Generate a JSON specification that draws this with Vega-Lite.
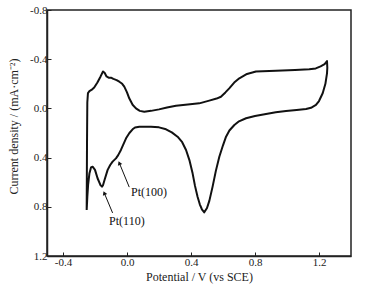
{
  "$schema": "https://vega.github.io/schema/vega-lite/v6.json",
  "width": 304,
  "height": 246,
  "autosize": "none",
  "padding": {"left": 47, "top": 10, "right": 15, "bottom": 35},
  "background": "white",
  "config": {
    "view": {"stroke": "#222", "strokeWidth": 1.5},
    "font": "Liberation Serif",
    "axis": {
      "labelFont": "Liberation Serif",
      "titleFont": "Liberation Serif",
      "labelFontSize": 11,
      "titleFontSize": 12,
      "titleFontWeight": "normal",
      "labelColor": "#222",
      "titleColor": "#222",
      "domainColor": "#222",
      "domainWidth": 1.5,
      "tickColor": "#222",
      "tickSize": -4,
      "grid": false
    }
  },
  "datasets": {
    "cv": [
      {"i": 0, "v": -0.252, "j": 0.826},
      {"i": 1, "v": -0.250, "j": 0.3},
      {"i": 2, "v": -0.248, "j": -0.05},
      {"i": 3, "v": -0.244, "j": -0.125},
      {"i": 4, "v": -0.235, "j": -0.14},
      {"i": 5, "v": -0.222, "j": -0.15},
      {"i": 6, "v": -0.205, "j": -0.17},
      {"i": 7, "v": -0.185, "j": -0.21},
      {"i": 8, "v": -0.165, "j": -0.26},
      {"i": 9, "v": -0.150, "j": -0.30},
      {"i": 10, "v": -0.140, "j": -0.29},
      {"i": 11, "v": -0.128, "j": -0.26},
      {"i": 12, "v": -0.115, "j": -0.25},
      {"i": 13, "v": -0.100, "j": -0.25},
      {"i": 14, "v": -0.085, "j": -0.24},
      {"i": 15, "v": -0.065, "j": -0.23},
      {"i": 16, "v": -0.048, "j": -0.217},
      {"i": 17, "v": -0.030, "j": -0.2},
      {"i": 18, "v": -0.017, "j": -0.177},
      {"i": 19, "v": 0.000, "j": -0.13},
      {"i": 20, "v": 0.014, "j": -0.082},
      {"i": 21, "v": 0.035, "j": -0.03},
      {"i": 22, "v": 0.056, "j": 0.0},
      {"i": 23, "v": 0.080, "j": 0.02},
      {"i": 24, "v": 0.108, "j": 0.027},
      {"i": 25, "v": 0.150, "j": 0.02},
      {"i": 26, "v": 0.200, "j": 0.008},
      {"i": 27, "v": 0.250, "j": -0.008},
      {"i": 28, "v": 0.306, "j": -0.022},
      {"i": 29, "v": 0.380, "j": -0.032},
      {"i": 30, "v": 0.452, "j": -0.041},
      {"i": 31, "v": 0.514, "j": -0.063},
      {"i": 32, "v": 0.560, "j": -0.08},
      {"i": 33, "v": 0.587, "j": -0.095},
      {"i": 34, "v": 0.615, "j": -0.13},
      {"i": 35, "v": 0.639, "j": -0.163},
      {"i": 36, "v": 0.670, "j": -0.21},
      {"i": 37, "v": 0.702, "j": -0.245},
      {"i": 38, "v": 0.750, "j": -0.28},
      {"i": 39, "v": 0.806, "j": -0.30},
      {"i": 40, "v": 0.931, "j": -0.307},
      {"i": 41, "v": 1.050, "j": -0.312},
      {"i": 42, "v": 1.139, "j": -0.318},
      {"i": 43, "v": 1.180, "j": -0.325},
      {"i": 44, "v": 1.210, "j": -0.342},
      {"i": 45, "v": 1.235, "j": -0.36},
      {"i": 46, "v": 1.250, "j": -0.385},
      {"i": 47, "v": 1.252, "j": -0.33},
      {"i": 48, "v": 1.250, "j": -0.285},
      {"i": 49, "v": 1.240, "j": -0.2},
      {"i": 50, "v": 1.223, "j": -0.123},
      {"i": 51, "v": 1.200, "j": -0.06},
      {"i": 52, "v": 1.181, "j": -0.028},
      {"i": 53, "v": 1.150, "j": -0.005},
      {"i": 54, "v": 1.119, "j": 0.005},
      {"i": 55, "v": 1.060, "j": 0.013},
      {"i": 56, "v": 0.994, "j": 0.021},
      {"i": 57, "v": 0.930, "j": 0.032},
      {"i": 58, "v": 0.869, "j": 0.046},
      {"i": 59, "v": 0.800, "j": 0.062},
      {"i": 60, "v": 0.744, "j": 0.08},
      {"i": 61, "v": 0.700, "j": 0.105},
      {"i": 62, "v": 0.671, "j": 0.135},
      {"i": 63, "v": 0.640, "j": 0.18},
      {"i": 64, "v": 0.619, "j": 0.23},
      {"i": 65, "v": 0.600, "j": 0.30},
      {"i": 66, "v": 0.577, "j": 0.393},
      {"i": 67, "v": 0.555, "j": 0.51},
      {"i": 68, "v": 0.535, "j": 0.636},
      {"i": 69, "v": 0.515, "j": 0.75},
      {"i": 70, "v": 0.500, "j": 0.81},
      {"i": 71, "v": 0.483, "j": 0.845},
      {"i": 72, "v": 0.468, "j": 0.82},
      {"i": 73, "v": 0.455, "j": 0.78},
      {"i": 74, "v": 0.441, "j": 0.718},
      {"i": 75, "v": 0.425, "j": 0.63},
      {"i": 76, "v": 0.410, "j": 0.528},
      {"i": 77, "v": 0.390, "j": 0.42},
      {"i": 78, "v": 0.369, "j": 0.338},
      {"i": 79, "v": 0.345, "j": 0.275},
      {"i": 80, "v": 0.316, "j": 0.23},
      {"i": 81, "v": 0.280, "j": 0.195},
      {"i": 82, "v": 0.244, "j": 0.17},
      {"i": 83, "v": 0.200, "j": 0.154},
      {"i": 84, "v": 0.150, "j": 0.149},
      {"i": 85, "v": 0.077, "j": 0.149},
      {"i": 86, "v": 0.050, "j": 0.155},
      {"i": 87, "v": 0.035, "j": 0.17},
      {"i": 88, "v": 0.015, "j": 0.2},
      {"i": 89, "v": -0.006, "j": 0.243},
      {"i": 90, "v": -0.022, "j": 0.29},
      {"i": 91, "v": -0.038, "j": 0.338},
      {"i": 92, "v": -0.055, "j": 0.38},
      {"i": 93, "v": -0.069, "j": 0.406},
      {"i": 94, "v": -0.090, "j": 0.433},
      {"i": 95, "v": -0.105, "j": 0.46},
      {"i": 96, "v": -0.121, "j": 0.50},
      {"i": 97, "v": -0.140, "j": 0.58},
      {"i": 98, "v": -0.150, "j": 0.625},
      {"i": 99, "v": -0.156, "j": 0.636},
      {"i": 100, "v": -0.165, "j": 0.625},
      {"i": 101, "v": -0.184, "j": 0.568},
      {"i": 102, "v": -0.200, "j": 0.50},
      {"i": 103, "v": -0.215, "j": 0.474},
      {"i": 104, "v": -0.225, "j": 0.48},
      {"i": 105, "v": -0.235, "j": 0.53},
      {"i": 106, "v": -0.243, "j": 0.62},
      {"i": 107, "v": -0.248, "j": 0.72},
      {"i": 108, "v": -0.252, "j": 0.826}
    ],
    "notes": [
      {"label": "Pt(100)", "tv": 0.025, "tj": 0.68, "v1": 0.014, "j1": 0.64, "v2": -0.048, "j2": 0.444},
      {"label": "Pt(110)", "tv": -0.112, "tj": 0.915, "v1": -0.090, "j1": 0.85, "v2": -0.142, "j2": 0.688}
    ]
  },
  "layer": [
    {
      "data": {"name": "cv"},
      "mark": {"type": "line", "color": "#111", "strokeWidth": 2, "strokeJoin": "round"},
      "encoding": {
        "x": {
          "field": "v", "type": "quantitative",
          "scale": {"domain": [-0.5, 1.4], "nice": false, "zero": false},
          "axis": {
            "title": "Potential / V (vs SCE)",
            "values": [-0.4, -0.2, 0, 0.2, 0.4, 0.6, 0.8, 1.0, 1.2],
            "labelExpr": "round(datum.value*10) % 4 == 0 ? replace(format(datum.value, '.1f'), '−', '-') : ''",
            "labelPadding": 4,
            "titlePadding": 4
          }
        },
        "y": {
          "field": "j", "type": "quantitative",
          "scale": {"domain": [-0.8, 1.2], "reverse": true, "nice": false, "zero": false},
          "axis": {
            "title": "Current density / (mA·cm⁻²)",
            "values": [-0.8, -0.6, -0.4, -0.2, 0, 0.2, 0.4, 0.6, 0.8, 1.0, 1.2],
            "labelExpr": "round(datum.value*10) % 4 == 0 ? replace(format(datum.value, '.1f'), '−', '-') : ''",
            "labelPadding": 4,
            "titlePadding": 9,
            "titleY": 116
          }
        },
        "order": {"field": "i", "type": "quantitative"}
      }
    },
    {
      "data": {"name": "notes"},
      "mark": {"type": "rule", "color": "#111", "strokeWidth": 1},
      "encoding": {
        "x": {"field": "v1", "type": "quantitative"},
        "y": {"field": "j1", "type": "quantitative"},
        "x2": {"field": "v2"},
        "y2": {"field": "j2"}
      }
    },
    {
      "data": {"name": "notes"},
      "mark": {"type": "point", "shape": "triangle-up", "filled": true, "color": "#111", "size": 22, "angle": 338, "opacity": 1},
      "encoding": {
        "x": {"field": "v2", "type": "quantitative"},
        "y": {"field": "j2", "type": "quantitative"}
      }
    },
    {
      "data": {"name": "notes"},
      "mark": {"type": "text", "align": "left", "baseline": "middle", "font": "Liberation Serif", "fontSize": 12, "color": "#111"},
      "encoding": {
        "x": {"field": "tv", "type": "quantitative"},
        "y": {"field": "tj", "type": "quantitative"},
        "text": {"field": "label"}
      }
    }
  ]
}
